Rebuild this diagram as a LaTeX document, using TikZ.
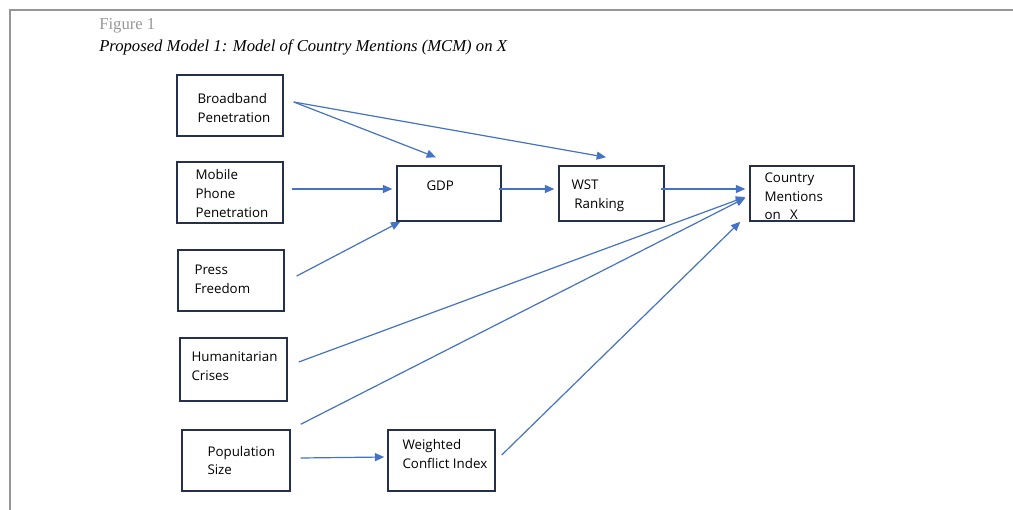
\documentclass[tikz,border=0pt]{standalone}
\usepackage{fontspec}
\setmainfont{Liberation Serif}
\newfontfamily\boxfont{Open Sans}
\usetikzlibrary{arrows.meta}
\definecolor{arrowblue}{RGB}{68,114,196}
\definecolor{boxnavy}{RGB}{36,48,78}
\definecolor{framegray}{RGB}{150,150,150}
\begin{document}
\begin{tikzpicture}[x=0.75pt,y=-0.75pt,
  box/.style={draw=boxnavy,line width=1.1pt,rectangle,inner sep=0pt},
  boxtext/.style={anchor=west,align=left,inner sep=0pt,font={\boxfont\fontsize{10}{14}\selectfont}},
  arr/.style={draw=arrowblue,line width=0.9pt,-{Triangle[length=7pt,width=6pt]}}]
\useasboundingbox (0,0) rectangle (1013,510);
\draw[framegray,line width=1.4pt] (10,510) -- (10,10) -- (1013,10);
\node[anchor=base west,inner sep=0pt,text=framegray,font=\fontsize{12.5}{15}\selectfont] (fig) at (99,30) {Figure 1};
\node[anchor=base west,inner sep=0pt,font=\fontsize{12.5}{15}\selectfont\itshape] (title) at (99,52) {Proposed Model 1: Model of Country Mentions (MCM) on X};

\node[box,minimum width=106*0.75pt,minimum height=61*0.75pt] (bb) at (230,105.5) {};
\node[box,minimum width=106*0.75pt,minimum height=61*0.75pt] (mob) at (230,192.5) {};
\node[box,minimum width=106*0.75pt,minimum height=61*0.75pt] (press) at (231,280.5) {};
\node[box,minimum width=107*0.75pt,minimum height=63*0.75pt] (hum) at (233.5,369.5) {};
\node[box,minimum width=108*0.75pt,minimum height=61*0.75pt] (pop) at (236,460.5) {};
\node[box,minimum width=104*0.75pt,minimum height=55*0.75pt] (gdp) at (449,193.5) {};
\node[box,minimum width=105*0.75pt,minimum height=55*0.75pt] (wst) at (611.5,193.5) {};
\node[box,minimum width=104*0.75pt,minimum height=55*0.75pt] (cmx) at (802,193.5) {};
\node[box,minimum width=107*0.75pt,minimum height=61*0.75pt] (wci) at (441.5,460.5) {};

\node[boxtext] (bbt) at ([shift={(21,2.5)}]bb.west) {Broadband\\Penetration};
\node[boxtext] (mobt) at ([shift={(19,1)}]mob.west) {Mobile\\Phone\\Penetration};
\node[boxtext] (presst) at ([shift={(17,-1)}]press.west) {Press\\Freedom};
\node[boxtext] (humt) at ([shift={(12,-3.5)}]hum.west) {Humanitarian\\Crises};
\node[boxtext] (popt) at ([shift={(26,0)}]pop.west) {Population\\Size};
\node[boxtext] (gdpt) at ([shift={(30,-7.5)}]gdp.west) {GDP};
\node[boxtext] (wstt) at ([shift={(13,2.5)}]wst.west) {WST\\\hspace{2.2pt}Ranking};
\node[boxtext] (cmxt) at ([shift={(15,3)}]cmx.west) {Country\\Mentions\\on\hspace{0.7em}X};
\node[boxtext] (wcit) at ([shift={(15,-6.5)}]wci.west) {Weighted\\Conflict Index};

\draw[arr] ([shift={(10,-3.5)}]bb.east) -- ([shift={(-13,-8)}]gdp.north);
\draw[arr] ([shift={(10,-3.5)}]bb.east) -- ([shift={(-5.5,-8)}]wst.north);
\draw[arr] ([shift={(8,-3.5)}]mob.east) -- ([shift={(-4,-4.5)}]gdp.west);
\draw[arr] ([shift={(12,-4.5)}]press.east) -- ([shift={(4,0)}]gdp.south west);
\draw[arr] ([shift={(-3,-4.5)}]gdp.east) -- ([shift={(-4,-4.5)}]wst.west);
\draw[arr] ([shift={(-4,-4.5)}]wst.east) -- ([shift={(-4,-4.5)}]cmx.west);
\draw[arr] ([shift={(11,-7.5)}]hum.east) -- ([shift={(-4,3.5)}]cmx.west);
\draw[arr] ([shift={(10,-5)}]pop.north east) -- ([shift={(-4,4.5)}]cmx.west);
\draw[arr] ([shift={(10,-2.5)}]pop.east) -- ([shift={(-3,-3.5)}]wci.west);
\draw[arr] ([shift={(6,-5.5)}]wci.east) -- ([shift={(-9,0)}]cmx.south west);
\end{tikzpicture}
\end{document}
